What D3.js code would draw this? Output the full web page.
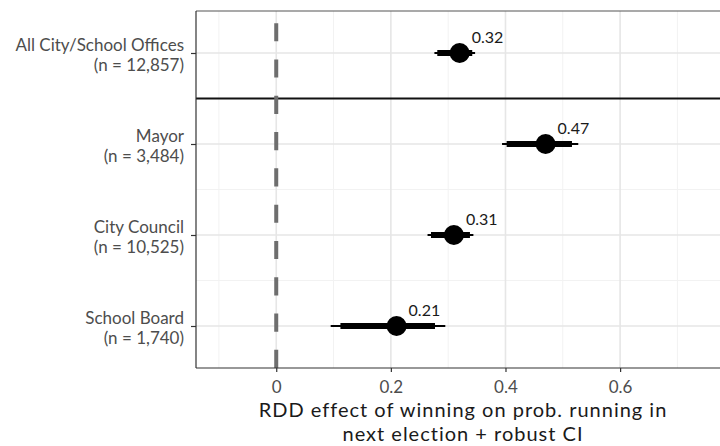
<!DOCTYPE html>
<html>
<head>
<meta charset="utf-8">
<script src="https://cdn.jsdelivr.net/npm/d3@7"></script>
<style>
  html, body { margin: 0; padding: 0; background: #fff; }
  svg { display: block; font-family: Lato, "Open Sans", sans-serif; }
</style>
</head>
<body>
<svg id="chart" width="720" height="446"></svg>
<script>
// Office types and their sample sizes
const categories = ["All City/School Offices", "Mayor", "City Council", "School Board"];
const sampleSizes = ["12,857", "3,484", "10,525", "1,740"];

// RDD point estimates
const estimates = [0.32, 0.47, 0.31, 0.21];

// Robust confidence intervals: outer (thin) and inner (thick)
const ciOuterLow  = [0.276, 0.394, 0.264, 0.095];
const ciOuterHigh = [0.347, 0.527, 0.344, 0.295];
const ciInnerLow  = [0.281, 0.402, 0.270, 0.112];
const ciInnerHigh = [0.342, 0.516, 0.338, 0.277];

// Axis ticks
const xTicks = [0, 0.2, 0.4, 0.6];
const xTickLabels = ["0", "0.2", "0.4", "0.6"];
const xMinorTicks = [-0.1, 0.1, 0.3, 0.5, 0.7];

const rows = categories.map((c, i) => ({
  name: c, n: sampleSizes[i], est: estimates[i],
  lo95: ciOuterLow[i], hi95: ciOuterHigh[i],
  lo90: ciInnerLow[i], hi90: ciInnerHigh[i]
}));

const svg = d3.select("#chart");
const panel = { left: 196, right: 729, top: 11, bottom: 368 };

const x = d3.scaleLinear().domain([-0.14, 0.79]).range([panel.left, panel.right]);
const y = d3.scalePoint().domain(categories).range([53, 326]);
const step = y.step();

svg.append("defs").append("clipPath").attr("id", "panel-clip")
  .append("rect")
  .attr("x", panel.left).attr("y", panel.top)
  .attr("width", panel.right - panel.left).attr("height", panel.bottom - panel.top);

const g = svg.append("g").attr("clip-path", "url(#panel-clip)");

// Minor grid
g.selectAll(".xminor").data(xMinorTicks).join("line")
  .attr("x1", d => x(d)).attr("x2", d => x(d))
  .attr("y1", panel.top).attr("y2", panel.bottom)
  .attr("stroke", "#f2f2f2").attr("stroke-width", 1);
const yMinor = categories.slice(1).map(c => y(c) - step / 2);
g.selectAll(".yminor").data(yMinor).join("line")
  .attr("x1", panel.left).attr("x2", panel.right)
  .attr("y1", d => d).attr("y2", d => d)
  .attr("stroke", "#f2f2f2").attr("stroke-width", 1);

// Major grid
g.selectAll(".xmajor").data(xTicks).join("line")
  .attr("x1", d => x(d)).attr("x2", d => x(d))
  .attr("y1", panel.top).attr("y2", panel.bottom)
  .attr("stroke", "#e6e6e6").attr("stroke-width", 1.6);
g.selectAll(".ymajor").data(categories).join("line")
  .attr("x1", panel.left).attr("x2", panel.right)
  .attr("y1", d => y(d)).attr("y2", d => y(d))
  .attr("stroke", "#e6e6e6").attr("stroke-width", 1.6);

// Separator between pooled estimate and office-level estimates
g.append("line")
  .attr("x1", panel.left).attr("x2", panel.right)
  .attr("y1", y(categories[0]) + step / 2).attr("y2", y(categories[0]) + step / 2)
  .attr("stroke", "#111").attr("stroke-width", 2);

// Zero reference line (dashed, drawn upward from the bottom)
g.append("line")
  .attr("x1", x(0)).attr("x2", x(0))
  .attr("y1", panel.bottom).attr("y2", panel.top)
  .attr("stroke", "#6e6e6e").attr("stroke-width", 4)
  .attr("stroke-dasharray", "18.15,18.15");

// Confidence intervals
g.selectAll(".ci95").data(rows).join("line")
  .attr("x1", d => x(d.lo95)).attr("x2", d => x(d.hi95))
  .attr("y1", d => y(d.name)).attr("y2", d => y(d.name))
  .attr("stroke", "#000").attr("stroke-width", 2.2);
g.selectAll(".ci90").data(rows).join("line")
  .attr("x1", d => x(d.lo90)).attr("x2", d => x(d.hi90))
  .attr("y1", d => y(d.name)).attr("y2", d => y(d.name))
  .attr("stroke", "#000").attr("stroke-width", 6);

// Point estimates
g.selectAll(".pt").data(rows).join("circle")
  .attr("cx", d => x(d.est)).attr("cy", d => y(d.name))
  .attr("r", 10).attr("fill", "#000");

// Value labels
g.selectAll(".lbl").data(rows).join("text")
  .attr("x", d => x(d.est) + 12).attr("y", d => y(d.name) - 10)
  .attr("font-size", 16).attr("fill", "#1a1a1a")
  .text(d => d3.format(".2f")(d.est));

// Panel border
const border = svg.append("g").attr("fill", "none");
border.append("line").attr("x1", panel.left).attr("x2", panel.right)
  .attr("y1", panel.top).attr("y2", panel.top).attr("stroke", "#555").attr("stroke-width", 1.2);
border.append("line").attr("x1", panel.left).attr("x2", panel.right)
  .attr("y1", panel.bottom).attr("y2", panel.bottom).attr("stroke", "#333").attr("stroke-width", 1.2);
border.append("line").attr("x1", panel.left).attr("x2", panel.left)
  .attr("y1", panel.top).attr("y2", panel.bottom).attr("stroke", "#333").attr("stroke-width", 1.2);

// X axis
const xAxis = d3.axisBottom(x).tickValues(xTicks)
  .tickFormat((d, i) => xTickLabels[i]).tickSize(4).tickPadding(6);
const xa = svg.append("g").attr("transform", `translate(0,${panel.bottom})`).call(xAxis);
xa.select(".domain").remove();
xa.selectAll(".tick line").attr("stroke", "#333").attr("stroke-width", 1.2);
xa.selectAll(".tick text").attr("font-size", 17).attr("fill", "#4d4d4d")
  .attr("font-family", "Lato, 'Open Sans', sans-serif").attr("dy", null).attr("y", 25);

// Y axis
const yAxis = d3.axisLeft(y).tickSize(5).tickFormat(() => "");
const ya = svg.append("g").attr("transform", `translate(${panel.left},0)`).call(yAxis);
ya.select(".domain").remove();
ya.selectAll(".tick line").attr("stroke", "#333").attr("stroke-width", 1.2);

const yl = svg.append("g").attr("font-size", 17).attr("fill", "#4d4d4d").attr("text-anchor", "end");
rows.forEach(d => {
  yl.append("text").attr("x", 184).attr("y", y(d.name) - 2).text(d.name);
  yl.append("text").attr("x", 184).attr("y", y(d.name) + 18).text(`(n = ${d.n})`);
});

// X axis title
const cx = (panel.left + panel.right) / 2 + 0.5;
const title = svg.append("g").attr("font-size", 20).attr("fill", "#1a1a1a")
  .attr("text-anchor", "middle").attr("letter-spacing", 1);
title.append("text").attr("x", cx).attr("y", 417).text("RDD effect of winning on prob. running in");
title.append("text").attr("x", cx).attr("y", 441).text("next election + robust CI");
</script>
</body>
</html>
